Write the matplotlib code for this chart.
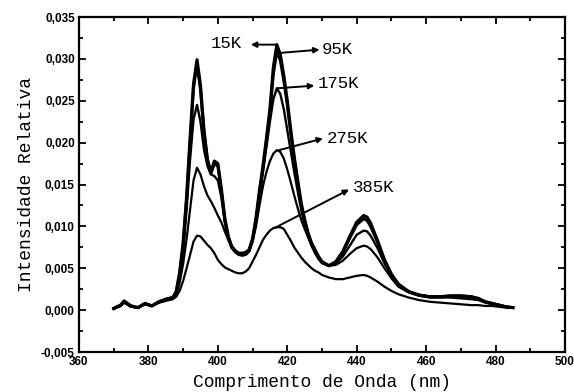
import matplotlib
matplotlib.use("Agg")
import matplotlib.pyplot as plt
from matplotlib.ticker import MultipleLocator, FuncFormatter

# wavelength grid (nm)
wavelength = [370, 372, 373, 375, 377, 379, 381, 383, 385, 387,
              388, 389, 390, 391, 392, 393, 394, 395, 396, 397,
              398, 399, 400, 401, 402, 403, 404, 405, 406, 407,
              408, 409, 410, 411, 412, 413, 414, 415, 416, 417,
              418, 419, 420, 421, 422, 423, 424, 425, 426, 427,
              428, 429, 430, 432, 434, 436, 438, 440, 442, 443,
              444, 446, 448, 450, 452, 455, 458, 461, 464, 467,
              470, 473, 475, 477, 479, 481, 483, 485]

int_15k = [0.0002, 0.0006, 0.0011, 0.0005, 0.0003, 0.0008, 0.0005, 0.0010, 0.0013, 0.0015,
           0.0022, 0.0045, 0.0080, 0.0135, 0.0205, 0.0270, 0.0299, 0.0268, 0.0215, 0.0180,
           0.0165, 0.0178, 0.0175, 0.0145, 0.0110, 0.0088, 0.0076, 0.0071, 0.0068, 0.0068,
           0.0069, 0.0072, 0.0085, 0.0110, 0.0143, 0.0172, 0.0205, 0.0240, 0.0290, 0.0317,
           0.0305, 0.0280, 0.0250, 0.0215, 0.0183, 0.0155, 0.0128, 0.0108, 0.0092, 0.0080,
           0.0072, 0.0064, 0.0058, 0.0053, 0.0058, 0.0070, 0.0088, 0.0105, 0.0113, 0.0111,
           0.0104, 0.0083, 0.0060, 0.0043, 0.0031, 0.0022, 0.0018, 0.0016, 0.0016, 0.0017,
           0.0017, 0.0016, 0.0014, 0.0010, 0.0008, 0.0006, 0.0004, 0.0003]

int_95k = [0.0002, 0.0006, 0.0010, 0.0005, 0.0003, 0.0008, 0.0005, 0.0010, 0.0013, 0.0015,
           0.0021, 0.0043, 0.0078, 0.0132, 0.0200, 0.0265, 0.0294, 0.0263, 0.0212, 0.0178,
           0.0163, 0.0175, 0.0172, 0.0143, 0.0108, 0.0087, 0.0075, 0.0070, 0.0067, 0.0067,
           0.0068, 0.0071, 0.0084, 0.0108, 0.0140, 0.0169, 0.0201, 0.0235, 0.0282, 0.0309,
           0.0298, 0.0274, 0.0245, 0.0211, 0.0180, 0.0152, 0.0126, 0.0107, 0.0091, 0.0079,
           0.0071, 0.0063, 0.0057, 0.0053, 0.0057, 0.0069, 0.0086, 0.0102, 0.0109, 0.0107,
           0.0100, 0.0081, 0.0059, 0.0042, 0.0031, 0.0022, 0.0018, 0.0016, 0.0016, 0.0017,
           0.0017, 0.0016, 0.0014, 0.0010, 0.0008, 0.0006, 0.0004, 0.0003]

int_175k = [0.0002, 0.0005, 0.0010, 0.0005, 0.0003, 0.0007, 0.0005, 0.0009, 0.0012, 0.0014,
            0.0020, 0.0040, 0.0070, 0.0120, 0.0180, 0.0228, 0.0245, 0.0225, 0.0192, 0.0172,
            0.0162, 0.0160, 0.0155, 0.0135, 0.0105, 0.0085, 0.0074, 0.0069, 0.0066, 0.0065,
            0.0066, 0.0070, 0.0082, 0.0105, 0.0135, 0.0165, 0.0195, 0.0225, 0.0252, 0.0265,
            0.0258, 0.0240, 0.0215, 0.0190, 0.0165, 0.0142, 0.0120, 0.0102, 0.0088, 0.0077,
            0.0069, 0.0062, 0.0057, 0.0053, 0.0056, 0.0064, 0.0077, 0.0090, 0.0095, 0.0094,
            0.0089, 0.0074, 0.0056, 0.0041, 0.0030, 0.0022, 0.0018, 0.0016, 0.0016, 0.0016,
            0.0016, 0.0015, 0.0013, 0.0010, 0.0008, 0.0006, 0.0004, 0.0003]

int_275k = [0.0002, 0.0005, 0.0009, 0.0004, 0.0003, 0.0007, 0.0005, 0.0009, 0.0012, 0.0014,
            0.0018, 0.0033, 0.0055, 0.0085, 0.0120, 0.0155, 0.0170, 0.0162, 0.0148, 0.0137,
            0.0130, 0.0122, 0.0113, 0.0105, 0.0094, 0.0084, 0.0076, 0.0070, 0.0067, 0.0066,
            0.0066, 0.0070, 0.0082, 0.0100, 0.0125, 0.0148, 0.0165, 0.0178, 0.0187, 0.0191,
            0.0189, 0.0181, 0.0168, 0.0153, 0.0137, 0.0122, 0.0108, 0.0097, 0.0087, 0.0077,
            0.0068, 0.0061, 0.0056, 0.0053, 0.0054, 0.0059, 0.0067, 0.0074, 0.0077, 0.0076,
            0.0073, 0.0063, 0.0050, 0.0038, 0.0028, 0.0021, 0.0017, 0.0015, 0.0015, 0.0015,
            0.0014, 0.0013, 0.0012, 0.0009, 0.0007, 0.0005, 0.0004, 0.0003]

int_385k = [0.0002, 0.0005, 0.0009, 0.0004, 0.0003, 0.0007, 0.0005, 0.0009, 0.0011, 0.0013,
            0.0016, 0.0023, 0.0035, 0.0050, 0.0066, 0.0082, 0.0089, 0.0088, 0.0083, 0.0078,
            0.0074, 0.0068, 0.0060, 0.0055, 0.0051, 0.0049, 0.0047, 0.0045, 0.0044, 0.0044,
            0.0046, 0.0050, 0.0058, 0.0066, 0.0075, 0.0084, 0.0090, 0.0095, 0.0098, 0.0099,
            0.0099, 0.0097, 0.0090, 0.0083, 0.0075, 0.0069, 0.0063, 0.0058, 0.0054, 0.0050,
            0.0047, 0.0045, 0.0042, 0.0039, 0.0037, 0.0037, 0.0039, 0.0041, 0.0042, 0.0041,
            0.0039, 0.0034, 0.0028, 0.0023, 0.0019, 0.0015, 0.0012, 0.0010, 0.0009, 0.0008,
            0.0007, 0.0006, 0.0006, 0.0005, 0.0005, 0.0004, 0.0003, 0.0003]

series = [("15K", int_15k, 2.3), ("95K", int_95k, 2.1), ("175K", int_175k, 1.7),
          ("275K", int_275k, 1.6), ("385K", int_385k, 1.6)]

# (label, arrow tail, arrow head, text position, text alignment)
labels = [
    ("15K", (417.0, 0.0317), (409.5, 0.0317), (407.0, 0.0318), "right"),
    ("95K", (417.5, 0.0307), (429.3, 0.0311), (430.0, 0.0311), "left"),
    ("175K", (417.3, 0.0265), (427.8, 0.0268), (428.8, 0.0271), "left"),
    ("275K", (417.6, 0.0191), (430.3, 0.0205), (431.3, 0.0205), "left"),
    ("385K", (416.3, 0.0098), (437.8, 0.0144), (438.8, 0.0147), "left"),
]

fig = plt.figure(figsize=(5.74, 3.92), dpi=100)
ax = fig.add_axes([0.1376, 0.102, 0.8467, 0.8546])

for name, vals, lw in series:
    ax.plot(wavelength, vals, color="black", linewidth=lw, solid_joinstyle="round")

for name, tail, head, txt, ha in labels:
    ax.annotate("", xy=head, xytext=tail,
                arrowprops=dict(arrowstyle="-|>", color="black", lw=1.4,
                                mutation_scale=8, shrinkA=0, shrinkB=0))
    ax.text(txt[0], txt[1], name, ha=ha, va="center", fontsize=12.5,
            family="Liberation Mono")

ax.set_xlim(360, 500)
ax.set_ylim(-0.005, 0.035)
ax.xaxis.set_major_locator(MultipleLocator(20))
ax.xaxis.set_minor_locator(MultipleLocator(10))
ax.yaxis.set_major_locator(MultipleLocator(0.005))
ax.yaxis.set_minor_locator(MultipleLocator(0.0025))


def comma_fmt(v, pos):
    s = f"{v:.3f}".replace(".", ",")
    return "0,000" if s == "-0,000" else s


ax.yaxis.set_major_formatter(FuncFormatter(comma_fmt))
ax.tick_params(which="both", direction="in", top=True, right=True, width=1.3,
               labelsize=8.5, pad=3)
ax.tick_params(which="major", length=5)
ax.tick_params(which="minor", length=3)
for lab in ax.get_xticklabels() + ax.get_yticklabels():
    lab.set_family("Liberation Sans")
    lab.set_weight("bold")
for sp in ax.spines.values():
    sp.set_linewidth(1.6)

ax.set_xlabel("Comprimento de Onda (nm)", family="Liberation Mono", fontsize=13,
              labelpad=4)
ax.set_ylabel("Intensidade Relativa", family="Liberation Mono", fontsize=13,
              labelpad=4)

fig.savefig("out.png", dpi=100)
